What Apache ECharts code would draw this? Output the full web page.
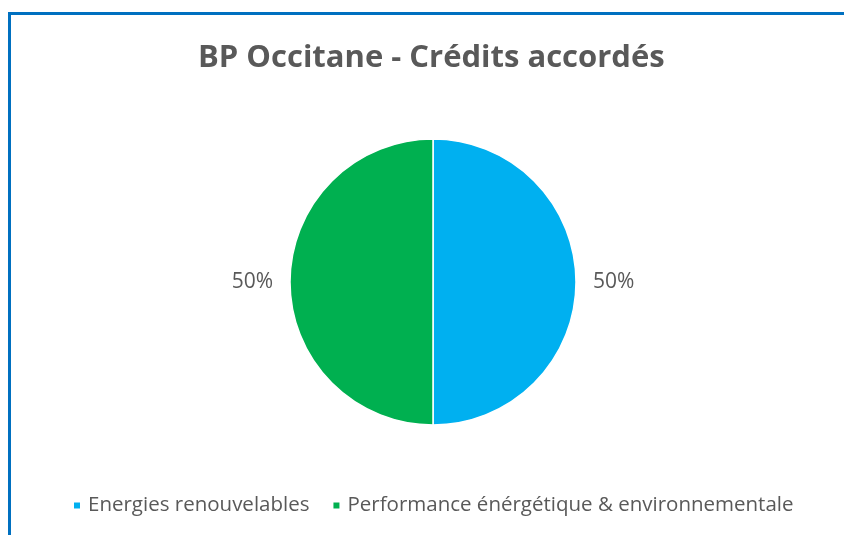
<!DOCTYPE html>
<html lang="fr">
<head>
    <meta charset="UTF-8">
    <title>BP Occitane - Crédits accordés</title>
    <script src="https://cdn.jsdelivr.net/npm/echarts@6/dist/echarts.min.js"></script>
    <style>
        html, body { margin: 0; padding: 0; background: #fff; }
        #main { width: 844px; height: 535px; }
        .cadre {
            position: absolute;
            left: 8px;
            top: 12px;
            width: 900px;
            height: 600px;
            border-left: 3px solid #0070c0;
            border-top: 3px solid #0070c0;
            pointer-events: none;
        }
    </style>
</head>
<body>
<div id="main"></div>
<div class="cadre"></div>
<script>
    // données du graphique
    var categories = ['Energies renouvelables', 'Performance énérgétique & environnementale'];
    var values = [50, 50];
    var colors = ['#00b0f0', '#00b050'];

    var pieData = [];
    for (let i = 0; i < categories.length; i++) {
        pieData.push({ name: categories[i], value: values[i], itemStyle: { color: colors[i] } });
    }

    var chart = echarts.init(document.getElementById('main'));
    var option = {
        animation: false,
        title: {
            text: 'BP Occitane - Crédits accordés',
            left: 193,
            top: 38,
            textStyle: {
                fontFamily: 'Open Sans',
                fontWeight: 'bold',
                fontSize: 31,
                color: '#595959'
            }
        },
        legend: {
            data: categories,
            left: 67,
            top: 490,
            icon: 'rect',
            itemWidth: 8,
            itemHeight: 8,
            itemGap: 22,
            textStyle: {
                fontFamily: 'Open Sans',
                fontSize: 20.5,
                color: '#595959',
                padding: [0, 0, 0, 2]
            }
        },
        series: [
            {
                type: 'pie',
                center: [433, 282],
                radius: 143,
                startAngle: 90,
                clockwise: true,
                data: pieData,
                itemStyle: { borderColor: '#fff', borderWidth: 1.5 },
                label: {
                    show: true,
                    position: 'outside',
                    formatter: '{d}%',
                    fontFamily: 'Open Sans',
                    fontSize: 21,
                    color: '#595959'
                },
                labelLine: { show: false, length: 12, length2: 0 }
            }
        ]
    };
    chart.setOption(option);
</script>
</body>
</html>
